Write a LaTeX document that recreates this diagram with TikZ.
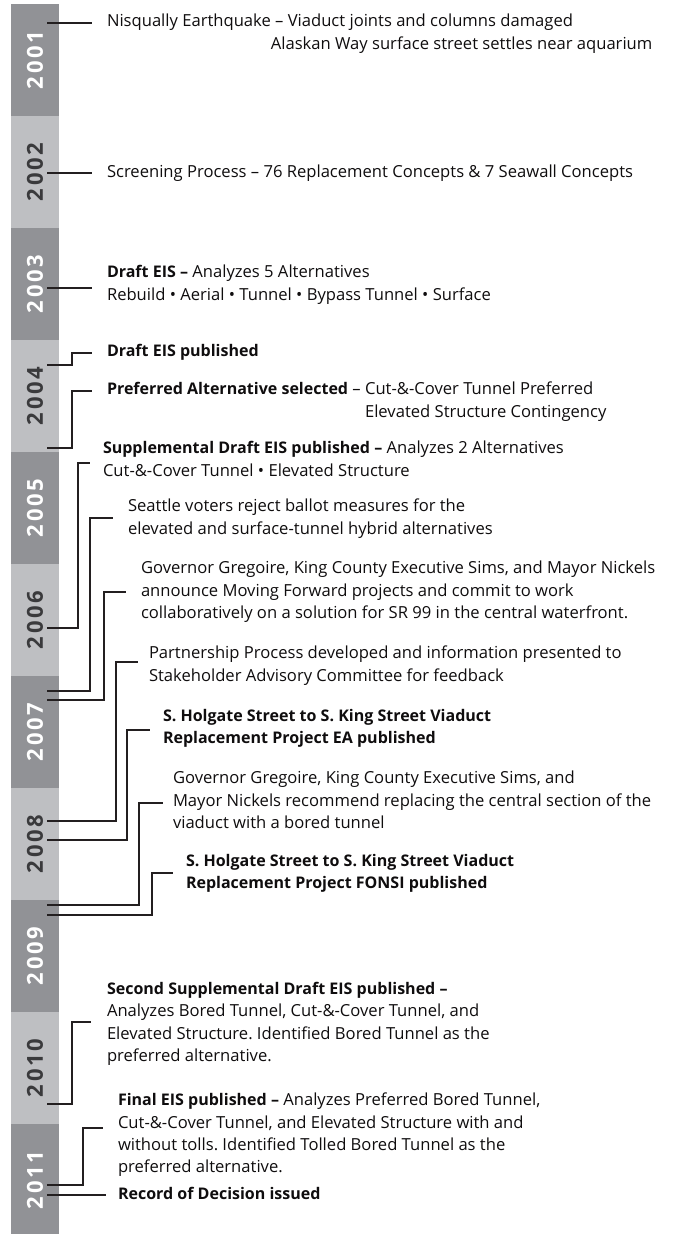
\documentclass[tikz,border=0pt]{standalone}
\usepackage{fontspec}
\setmainfont{Open Sans}[BoldFeatures={Scale=0.965}]
\newfontfamily\yearfont[LetterSpace=12]{Open Sans}
\usetikzlibrary{calc}
\definecolor{segdark}{RGB}{145,146,150}
\definecolor{seglight}{RGB}{190,191,194}
\definecolor{yrdark}{RGB}{58,58,60}
\definecolor{txt}{RGB}{15,13,14}
\definecolor{linec}{RGB}{35,31,32}
\newcommand\evfont{\fontsize{16.6bp}{22.4bp}\selectfont\frenchspacing}
\begin{document}
\begin{tikzpicture}[x=1bp,y=-1bp,
  yseg/.style={rotate=90, minimum width=112bp, minimum height=48bp, inner sep=0pt, outer sep=0pt,
     font=\yearfont\bfseries\fontsize{22bp}{22bp}\selectfont},
  dseg/.style={yseg, fill=segdark, text=white},
  lseg/.style={yseg, fill=seglight, text=yrdark},
  ev/.style={anchor=north west, inner sep=0pt, outer sep=0pt, align=left, font=\evfont, text=txt},
  conn/.style={draw=linec, line width=1.2bp},
]
\useasboundingbox (0,0) rectangle (683,1234);
\begin{scope}
\clip (0,0) rectangle (683,1234);
\node[dseg] (y2001) at (35,60) {2001};
\node[lseg] (y2002) at (35,172) {2002};
\node[dseg] (y2003) at (35,284) {2003};
\node[lseg] (y2004) at (35,396) {2004};
\node[dseg] (y2005) at (35,508) {2005};
\node[lseg] (y2006) at (35,620) {2006};
\node[dseg] (y2007) at (35,732) {2007};
\node[lseg] (y2008) at (35,844) {2008};
\node[dseg] (y2009) at (35,956) {2009};
\node[lseg] (y2010) at (35,1068) {2010};
\node[dseg] (y2011) at (35,1180) {2011};
\end{scope}

% events
\node[ev] (e01) at (107,14) {Nisqually Earthquake – Viaduct joints and columns damaged\\
  \phantom{Nisqually Earthquake}Alaskan Way surface street settles near aquarium};
\node[ev] (e02) at (107,165) {Screening Process – 76 Replacement Concepts \& 7 Seawall Concepts};
\node[ev] (e03) at (107,265) {\textbf{Draft EIS –} Analyzes 5 Alternatives\\
  Rebuild • Aerial • Tunnel • Bypass Tunnel • Surface};
\node[ev] (e04a) at (107,344) {\textbf{Draft EIS published}};
\node[ev] (e04b) at (107,382) {\textbf{Preferred Alternative selected} – Cut-\&-Cover Tunnel Preferred\\
  \phantom{\textbf{Preferred Alternative selected} – }Elevated Structure Contingency};
\node[ev] (e05) at (103,441) {\textbf{Supplemental Draft EIS published –} Analyzes 2 Alternatives\\
  Cut-\&-Cover Tunnel • Elevated Structure};
\node[ev] (e05b) at (128,499) {Seattle voters reject ballot measures for the\\
  elevated and surface-tunnel hybrid alternatives};
\node[ev] (e06) at (141,561) {Governor Gregoire, King County Executive Sims, and Mayor Nickels\\
  announce Moving Forward projects and commit to work\\
  collaboratively on a solution for SR 99 in the central waterfront.};
\node[ev] (e07) at (149,646) {Partnership Process developed and information presented to\\
  Stakeholder Advisory Committee for feedback};
\node[ev] (e07b) at (163,709) {\textbf{S. Holgate Street to S. King Street Viaduct}\\
  \textbf{Replacement Project EA published}};
\node[ev] (e08) at (173,771) {Governor Gregoire, King County Executive Sims, and\\
  Mayor Nickels recommend replacing the central section of the\\
  viaduct with a bored tunnel};
\node[ev] (e08b) at (186,854) {\textbf{S. Holgate Street to S. King Street Viaduct}\\
  \textbf{Replacement Project FONSI published}};
\node[ev] (e10) at (107,982) {\textbf{Second Supplemental Draft EIS published –}\\
  Analyzes Bored Tunnel, Cut-\&-Cover Tunnel, and\\
  Elevated Structure. Identified Bored Tunnel as the\\
  preferred alternative.};
\node[ev] (e11a) at (118,1093) {\textbf{Final EIS published –} Analyzes Preferred Bored Tunnel,\\
  Cut-\&-Cover Tunnel, and Elevated Structure with and\\
  without tolls. Identified Tolled Bored Tunnel as the\\
  preferred alternative.};
\node[ev] (e11b) at (118,1187) {\textbf{Record of Decision issued}};

% connector points
\coordinate (p01) at (47,23);   \coordinate (q01) at (92,23);
\coordinate (p02) at (47,173);  \coordinate (q02) at (92,173);
\coordinate (p03) at (47,288);  \coordinate (q03) at (92,288);
\coordinate (p04a) at (47,365); \coordinate (k04a) at (72,353);  \coordinate (q04a) at (92,353);
\coordinate (p04b) at (47,448); \coordinate (k04b) at (72,391);  \coordinate (q04b) at (92,391);
\coordinate (p05) at (47,628);  \coordinate (k05) at (78,463);   \coordinate (q05) at (90,463);
\coordinate (p05b) at (47,691); \coordinate (k05b) at (90,518);  \coordinate (q05b) at (113,518);
\coordinate (p06) at (47,700);  \coordinate (k06) at (104,592);  \coordinate (q06) at (126,592);
\coordinate (p07) at (47,821);  \coordinate (k07) at (116,662);  \coordinate (q07) at (138,662);
\coordinate (p07b) at (47,840); \coordinate (k07b) at (127,730); \coordinate (q07b) at (150,730);
\coordinate (p08) at (47,905);  \coordinate (k08) at (139,803);  \coordinate (q08) at (163,803);
\coordinate (p08b) at (47,915); \coordinate (k08b) at (152,873); \coordinate (q08b) at (173,873);
\coordinate (p10) at (47,1104); \coordinate (k10) at (72,1022);  \coordinate (q10) at (91,1022);
\coordinate (p11a) at (47,1185);\coordinate (k11a) at (83,1128); \coordinate (q11a) at (103,1128);
\coordinate (p11b) at (47,1195);\coordinate (q11b) at (106,1195);

\draw[conn] (p01) -- (q01);
\draw[conn] (p02) -- (q02);
\draw[conn] (p03) -- (q03);
\draw[conn] (p04a) -| (k04a) -- (q04a);
\draw[conn] (p04b) -| (k04b) -- (q04b);
\draw[conn] (p05) -| (k05) -- (q05);
\draw[conn] (p05b) -| (k05b) -- (q05b);
\draw[conn] (p06) -| (k06) -- (q06);
\draw[conn] (p07) -| (k07) -- (q07);
\draw[conn] (p07b) -| (k07b) -- (q07b);
\draw[conn] (p08) -| (k08) -- (q08);
\draw[conn] (p08b) -| (k08b) -- (q08b);
\draw[conn] (p10) -| (k10) -- (q10);
\draw[conn] (p11a) -| (k11a) -- (q11a);
\draw[conn] (p11b) -- (q11b);
\end{tikzpicture}
\end{document}
